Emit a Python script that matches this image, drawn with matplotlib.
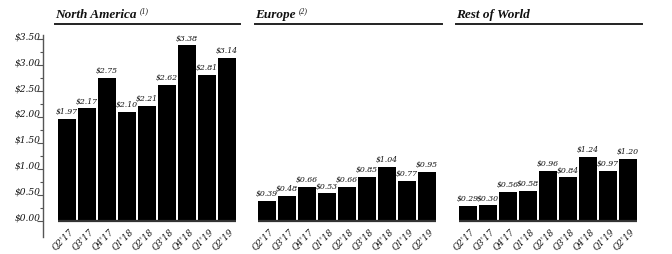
import numpy as np
import matplotlib
matplotlib.use("Agg")
import matplotlib.pyplot as plt
from matplotlib.lines import Line2D

quarters = ["Q2'17", "Q3'17", "Q4'17", "Q1'18", "Q2'18", "Q3'18", "Q4'18", "Q1'19", "Q2'19"]
north_america = [1.97, 2.17, 2.75, 2.10, 2.21, 2.62, 3.38, 2.81, 3.14]
europe = [0.39, 0.48, 0.66, 0.53, 0.66, 0.85, 1.04, 0.77, 0.95]
rest_of_world = [0.29, 0.30, 0.56, 0.58, 0.96, 0.84, 1.24, 0.97, 1.20]
yticks = [0.0, 0.5, 1.0, 1.5, 2.0, 2.5, 3.0, 3.5]

W, H = 672, 254
FONT = "DejaVu Serif"
TFONT = "Liberation Serif"
TXT = "#111111"

fig = plt.figure(figsize=(W / 100, H / 100), dpi=100)

# pixel helpers: y of 0 at 221px, 52px per dollar, slot 20px per bar
Y0, PPU, SLOT = 221, 52.0, 20.0
ylo = -(237 - Y0) / PPU
yhi = (Y0 - 35) / PPU


def panel(left_px, right_px, bar0_px, values, title, sup, line_x0, line_x1, show_y=False):
    ax = fig.add_axes([left_px / W, (H - 237) / H, (right_px - left_px) / W, (237 - 35) / H])
    c0 = bar0_px + 9
    ax.set_xlim((left_px - c0) / SLOT, (right_px - c0) / SLOT)
    ax.set_ylim(ylo, yhi)
    x = np.arange(len(values))
    ax.bar(x, values, width=0.9, color="black", zorder=2)
    ax.hlines(0, -0.47, len(values) - 0.53, color="#333333", lw=1.6, zorder=3)
    for xi, v in zip(x, values):
        ax.text(xi, v + 0.05, "$%.2f" % v, ha="center", va="bottom", fontsize=5.6,
                family=FONT, style="italic", color=TXT)
    for xi, q in zip(x, quarters):
        ax.text(xi + 0.08, -0.11, q, rotation=45, ha="right", va="top", rotation_mode="anchor",
                fontsize=6.3, family=FONT, style="italic", color=TXT)
    ax.set_xticks([])
    for s in ["top", "right", "bottom"]:
        ax.spines[s].set_visible(False)
    if show_y:
        ax.spines["left"].set_color("#555555")
        ax.spines["left"].set_linewidth(1.0)
        ax.set_yticks(yticks)
        ax.set_yticklabels(["$%.2f" % t for t in yticks], family=FONT, style="italic",
                           fontsize=6.6, color=TXT)
        ax.set_yticks(np.arange(0.25, 3.5, 0.5), minor=True)
        ax.tick_params(axis="y", which="major", length=4, width=0.8, color="#555555", pad=-2)
        ax.tick_params(axis="y", which="minor", length=2, width=0.8, color="#555555")
        for lab in ax.get_yticklabels():
            lab.set_va("baseline")
    else:
        ax.spines["left"].set_visible(False)
        ax.set_yticks([])
    ax.set_facecolor("none")

    # title and underline
    t = fig.text(line_x0 / W, 1 - 18 / H, title, ha="left", va="baseline", fontsize=9.5,
                 family=TFONT, style="italic", weight="bold", color=TXT)
    if sup:
        fig.canvas.draw()
        bb = t.get_window_extent()
        fig.text((bb.x1 + 3) / W, 1 - 13 / H, sup, ha="left", va="baseline", fontsize=5.5,
                 family=TFONT, style="italic", color=TXT)
    fig.add_artist(Line2D([line_x0 / W, line_x1 / W], [1 - 24 / H] * 2, color="#222222",
                          lw=1.4, transform=fig.transFigure))
    return ax


panel(43, 240, 58, north_america, "North America", "(1)", 55, 240, show_y=True)
panel(255, 442, 258, europe, "Europe", "(2)", 255, 442)
panel(456, 642, 459, rest_of_world, "Rest of World", None, 456, 642)

fig.savefig("out.png", dpi=100)
